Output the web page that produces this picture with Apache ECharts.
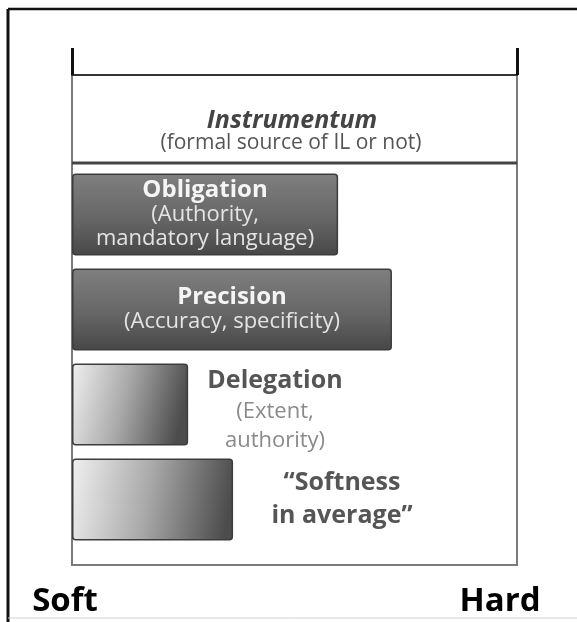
<!DOCTYPE html>
<html><head><meta charset="utf-8">
<script src="https://cdn.jsdelivr.net/npm/echarts@6/dist/echarts.min.js"></script>
<style>html,body{margin:0;padding:0;background:#fff}#c{width:577px;height:622px}</style>
</head><body><div id="c"></div>
<script>
// ---- data ----
const categories = ['Obligation', 'Precision', 'Delegation', 'Softness in average'];
const titleLines = [['Obligation'], ['Precision'], ['Delegation'], ['\u201cSoftness', 'in average\u201d']];
const subtitleLines = [['(Authority,', 'mandatory language)'], ['(Accuracy, specificity)'], ['(Extent,', 'authority)'], []];
const hardness = [59.8, 71.9, 26.1, 36.2];
const tickLabels = ['Soft', 'Hard'];
const headerLines = ['Instrumentum', '(formal source of IL or not)'];

// ---- styles ----
const FONT = 'Open Sans';
const darkBarColor = {type:'linear', x:0, y:0, x2:0, y2:1, colorStops:[
  {offset:0, color:'#7f7f7f'}, {offset:0.55, color:'#666666'}, {offset:1, color:'#474747'}]};
const fadeBarColor = {type:'linear', x:0, y:0, x2:1, y2:0.35, colorStops:[
  {offset:0, color:'#f0f0f0'}, {offset:0.5, color:'#a8a8a8'}, {offset:1, color:'#4c4c4c'}]};
const barStyles = [darkBarColor, darkBarColor, fadeBarColor, fadeBarColor];
const labelKinds = ['in', 'in', 'out', 'out2'];
const labelPos = {
  in: {position:'inside'},
  out: {position:[203, '56%'], align:'center', verticalAlign:'middle'},
  out2: {position:[270, '50%'], align:'center', verticalAlign:'middle'}
};
const rich = {
  wt: {color:'#f5f5f5', fontFamily:FONT, fontWeight:'bold', fontSize:24, lineHeight:24},
  ws: {color:'#e4e4e4', fontFamily:FONT, fontSize:22, lineHeight:24},
  dt: {color:'#555555', fontFamily:FONT, fontWeight:'bold', fontSize:25, lineHeight:33},
  ds: {color:'#8a8a8a', fontFamily:FONT, fontSize:22, lineHeight:29},
  soft: {color:'#000', fontFamily:FONT, fontWeight:'bold', fontSize:33, padding:[0,14,0,0]},
  hard: {color:'#000', fontFamily:FONT, fontWeight:'bold', fontSize:33, padding:[0,34,0,0]}
};

const seriesData = hardness.map((v, i) => {
  const kind = labelKinds[i];
  const inside = kind === 'in';
  const t = inside ? 'wt' : 'dt', s = inside ? 'ws' : 'ds';
  const txt = titleLines[i].map(l => '{' + t + '|' + l + '}')
    .concat(subtitleLines[i].map(l => '{' + s + '|' + l + '}')).join('\n');
  return {
    value: v,
    name: categories[i],
    itemStyle: {color: barStyles[i]},
    label: Object.assign({show:true, formatter: txt, rich: rich}, labelPos[kind])
  };
});

const L = 72, R = 517;
const chart = echarts.init(document.getElementById('c'));
chart.setOption({
  animation: false,
  backgroundColor: '#ffffff',
  grid: [
    {left:L, width:R - L, top:75, bottom:57, show:true, borderColor:'#7a7a7a', borderWidth:2, backgroundColor:'transparent'},
    {left:L, width:R - L, top:167, height:380}
  ],
  xAxis: [
    {gridIndex:0, type:'value', position:'top', min:0, max:100, interval:100,
     axisLine:{show:true, onZero:false, lineStyle:{color:'#333', width:2}},
     axisTick:{show:true, inside:false, length:27, lineStyle:{color:'#111', width:3}},
     axisLabel:{show:false}, splitLine:{show:false}},
    {gridIndex:0, type:'value', position:'bottom', min:0, max:100, interval:100,
     axisLine:{show:false, onZero:false}, axisTick:{show:false}, splitLine:{show:false},
     axisLabel:{show:true, margin:20, alignMinLabel:'center', alignMaxLabel:'center',
       formatter: v => v === 0 ? '{soft|' + tickLabels[0] + '}' : '{hard|' + tickLabels[1] + '}', rich: rich}},
    {gridIndex:1, type:'value', min:0, max:100, show:false}
  ],
  yAxis: [
    {gridIndex:0, type:'value', show:false},
    {gridIndex:1, type:'category', inverse:true, data:categories, show:false}
  ],
  series: [{
    type:'bar', xAxisIndex:2, yAxisIndex:1, barWidth:82,
    itemStyle:{borderColor:'#3c3c3c', borderWidth:1.5, borderRadius:3},
    data: seriesData
  }],
  graphic: [
    {type:'line', shape:{x1:8, y1:9, x2:577, y2:9}, style:{stroke:'#111', lineWidth:2.5}},
    {type:'line', shape:{x1:8, y1:9, x2:8, y2:622}, style:{stroke:'#111', lineWidth:3}},
    {type:'line', shape:{x1:8, y1:618, x2:577, y2:618}, style:{stroke:'#d0d0d0', lineWidth:1}},
    {type:'line', shape:{x1:L, y1:163, x2:R, y2:163}, style:{stroke:'#444', lineWidth:3}},
    {type:'text', x:292, y:121, style:{text:headerLines[0], fontFamily:FONT, fontStyle:'italic', fontWeight:'bold', fontSize:25, fill:'#444', align:'center', verticalAlign:'middle'}},
    {type:'text', x:291, y:143, style:{text:headerLines[1], fontFamily:FONT, fontSize:21, fill:'#555', align:'center', verticalAlign:'middle'}}
  ]
});
</script></body></html>
